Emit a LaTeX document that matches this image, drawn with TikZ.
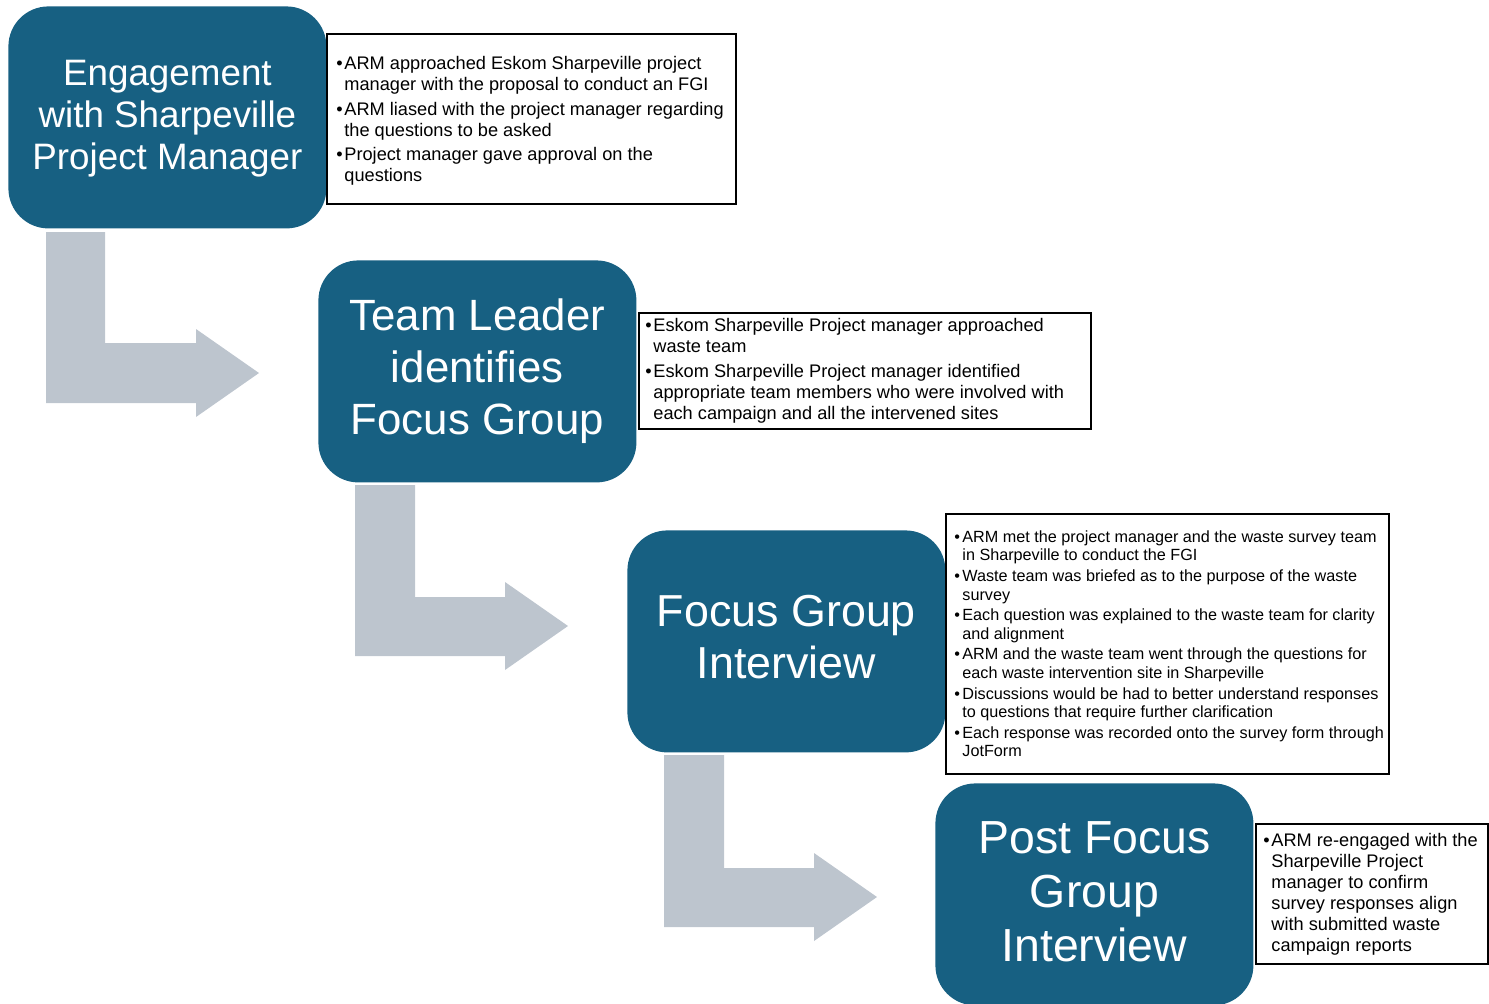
\documentclass[tikz,border=0pt]{standalone}
\usepackage{fontspec}
\setmainfont{Liberation Sans}
\definecolor{stepblue}{RGB}{23,96,130}
\definecolor{arrowgray}{RGB}{189,197,206}
\newcommand{\bl}{\makebox[4pt][l]{\textbullet}}
\newcommand{\ind}{\hspace*{4pt}}
\tikzset{
  stepbox/.style={fill=stepblue, rounded corners=20pt, inner sep=0pt,
    minimum width=159pt, minimum height=111pt, anchor=north west},
  steptext/.style={text=white, align=center, inner sep=0pt},
  notebox/.style={draw=black, line width=0.8pt, fill=white, inner sep=0pt, anchor=north west},
  notetext/.style={anchor=west, align=left, inner sep=0pt},
  bentarrow/.style={fill=arrowgray}
}
\begin{document}
\begin{tikzpicture}[x=0.5pt,y=-0.5pt]
\useasboundingbox (0,0) rectangle (1489,1003);

% bent arrows
\fill[bentarrow] (46,232) -- (105,232) -- (105,343) -- (196,343) -- (196,329) -- (259,373) -- (196,417) -- (196,403) -- (46,403) -- cycle;
\fill[bentarrow] (355,485) -- (415,485) -- (415,597) -- (505,597) -- (505,582) -- (568,626) -- (505,670) -- (505,656) -- (355,656) -- cycle;
\fill[bentarrow] (664,755) -- (724,755) -- (724,868) -- (814,868) -- (814,853) -- (877,897) -- (814,941) -- (814,927) -- (664,927) -- cycle;

% step boxes
\node[stepbox] (s1) at (8,6) {};
\node[steptext, font=\fontsize{18.4}{21}\selectfont] (t1) at ([yshift=-0.5pt]s1.center) {Engagement\\with Sharpeville\\Project Manager};
\node[stepbox] (s2) at (318,260) {};
\node[steptext, font=\fontsize{21.9}{26}\selectfont] (t2) at ([yshift=0pt]s2.center) {Team Leader\\identifies\\Focus Group};
\node[stepbox] (s3) at (627,530) {};
\node[steptext, font=\fontsize{22.4}{26}\selectfont] (t3) at ([yshift=2pt]s3.center) {Focus Group\\Interview};
\node[stepbox] (s4) at (935,783) {};
\node[steptext, font=\fontsize{23.2}{27}\selectfont] (t4) at ([yshift=1.5pt]s4.center) {Post Focus\\Group\\Interview};

% note boxes
\node[notebox, minimum width=204.5pt, minimum height=85pt] (n1) at (326,33) {};
\node[notetext, font=\fontsize{9.1}{10.5}\selectfont] (m1) at ([xshift=5pt,yshift=-1pt]n1.west) {%
\bl ARM approached Eskom Sharpeville project\\
\ind manager with the proposal to conduct an FGI\\[1.6pt]
\bl ARM liased with the project manager regarding\\
\ind the questions to be asked\\[1.6pt]
\bl Project manager gave approval on the\\
\ind questions};

\node[notebox, minimum width=226pt, minimum height=58pt] (n2) at (638,312) {};
\node[notetext, font=\fontsize{9.1}{10.5}\selectfont] (m2) at ([xshift=3.5pt]n2.west) {%
\bl Eskom Sharpeville Project manager approached\\
\ind waste team\\[1.6pt]
\bl Eskom Sharpeville Project manager identified\\
\ind appropriate team members who were involved with\\
\ind each campaign and all the intervened sites};

\node[notebox, minimum width=221.5pt, minimum height=130pt] (n3) at (945,513) {};
\node[notetext, font=\fontsize{8.1}{9.3}\selectfont] (m3) at ([xshift=4.5pt]n3.west) {%
\bl ARM met the project manager and the waste survey team\\
\ind in Sharpeville to conduct the FGI\\[1pt]
\bl Waste team was briefed as to the purpose of the waste\\
\ind survey\\[1pt]
\bl Each question was explained to the waste team for clarity\\
\ind and alignment\\[1pt]
\bl ARM and the waste team went through the questions for\\
\ind each waste intervention site in Sharpeville\\[1pt]
\bl Discussions would be had to better understand responses\\
\ind to questions that require further clarification\\[1pt]
\bl Each response was recorded onto the survey form through\\
\ind JotForm};

\node[notebox, minimum width=116pt, minimum height=70pt] (n4) at (1255,823) {};
\node[notetext, font=\fontsize{9.1}{10.5}\selectfont] (m4) at ([xshift=4pt]n4.west) {%
\bl ARM re-engaged with the\\
\ind Sharpeville Project\\
\ind manager to confirm\\
\ind survey responses align\\
\ind with submitted waste\\
\ind campaign reports};
\end{tikzpicture}
\end{document}
